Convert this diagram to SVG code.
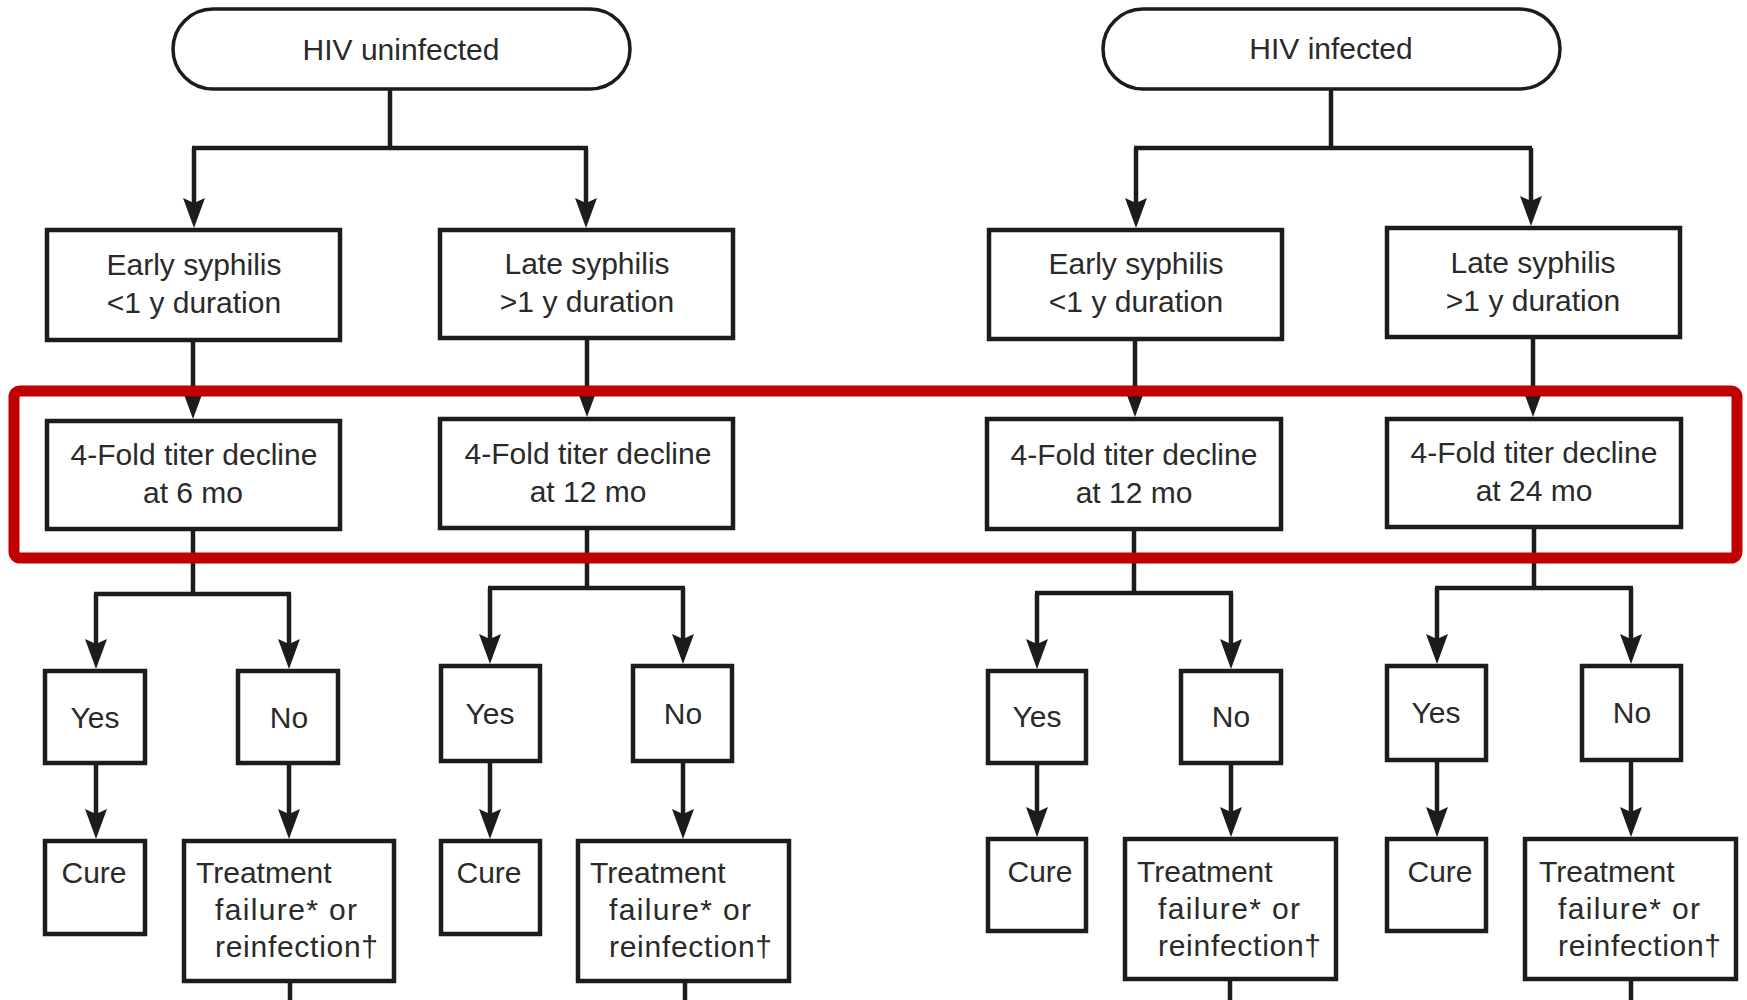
<svg xmlns="http://www.w3.org/2000/svg" width="1747" height="1000" viewBox="0 0 1747 1000">
<style>
.bg{fill:#ffffff}
.box{fill:#ffffff;stroke:#1c1c1c;stroke-width:4.5}
.pill{fill:#ffffff;stroke:#1c1c1c;stroke-width:3.5}
.t{font-family:"Liberation Sans",Arial,sans-serif;font-size:30px;fill:#2a2a2a;text-anchor:middle}
.tl{font-family:"Liberation Sans",Arial,sans-serif;font-size:30px;fill:#2a2a2a;text-anchor:start}
.c{fill:none;stroke:#1c1c1c;stroke-width:4.5}
.ca{fill:none;stroke:#1c1c1c;stroke-width:4.5;marker-end:url(#arr)}
.hl{fill:none;stroke:#c00000;stroke-width:11}
</style>
<defs>
<marker id="arr" viewBox="0 0 30 22" refX="22" refY="11" markerWidth="30" markerHeight="22" markerUnits="userSpaceOnUse" orient="auto">
<path d="M0,0 L30,11 L0,22 L5,11 Z" fill="#1c1c1c"/>
</marker>
</defs>
<rect class="bg" x="0" y="0" width="1747" height="1000"/>

<g id="connectors">
<path class="c" d="M390,89 V148"/>
<path class="c" d="M192,148 H588"/>
<path class="ca" d="M194,148 V220"/>
<path class="ca" d="M586,148 V220"/>
<path class="ca" d="M193,340 V411"/>
<path class="ca" d="M587,338 V409"/>
<path class="c" d="M193,529 V594"/>
<path class="c" d="M94,594 H291"/>
<path class="ca" d="M96,594 V661"/>
<path class="ca" d="M289,594 V661"/>
<path class="c" d="M587,528 V588"/>
<path class="c" d="M488,588 H685"/>
<path class="ca" d="M490,588 V656"/>
<path class="ca" d="M683,588 V656"/>
<path class="ca" d="M96,763 V831"/>
<path class="ca" d="M289,763 V831"/>
<path class="ca" d="M490,761 V831"/>
<path class="ca" d="M683,761 V831"/>
<path class="c" d="M290,981 V1000"/>
<path class="c" d="M685,981 V1000"/>
<path class="c" d="M1331,89 V148"/>
<path class="c" d="M1134,148 H1532"/>
<path class="ca" d="M1136,148 V220"/>
<path class="ca" d="M1531,148 V218"/>
<path class="ca" d="M1135,339 V409"/>
<path class="ca" d="M1533,337 V409"/>
<path class="c" d="M1134,529 V593"/>
<path class="c" d="M1035,593 H1233"/>
<path class="ca" d="M1037,593 V661"/>
<path class="ca" d="M1231,593 V661"/>
<path class="c" d="M1534,527 V588"/>
<path class="c" d="M1435,588 H1633"/>
<path class="ca" d="M1437,588 V656"/>
<path class="ca" d="M1631,588 V656"/>
<path class="ca" d="M1037,763 V829"/>
<path class="ca" d="M1231,763 V829"/>
<path class="ca" d="M1437,760 V829"/>
<path class="ca" d="M1631,760 V829"/>
<path class="c" d="M1230,979 V1000"/>
<path class="c" d="M1631,979 V1000"/>
</g>

<g id="hiv-uninfected">
<rect class="pill" x="173" y="9" width="457" height="80" rx="40" ry="40"/>
<text class="t" x="401" y="60">HIV uninfected</text>
</g>
<g id="early-1">
<rect class="box" x="47" y="230" width="293" height="110"/>
<text class="t" x="194" y="275">Early syphilis</text>
<text class="t" x="194" y="313">&lt;1 y duration</text>
</g>
<g id="late-1">
<rect class="box" x="440" y="230" width="293" height="108"/>
<text class="t" x="587" y="274">Late syphilis</text>
<text class="t" x="587" y="312">&gt;1 y duration</text>
</g>
<g id="fold-1">
<rect class="box" x="47" y="421" width="293" height="108"/>
<text class="t" x="194" y="465">4-Fold titer decline</text>
<text class="t" x="193" y="503">at 6 mo</text>
</g>
<g id="fold-2">
<rect class="box" x="440" y="419" width="293" height="109"/>
<text class="t" x="588" y="464">4-Fold titer decline</text>
<text class="t" x="588" y="502">at 12 mo</text>
</g>
<g id="yes-1">
<rect class="box" x="45" y="671" width="100" height="92"/>
<text class="t" x="95" y="728">Yes</text>
</g>
<g id="no-1">
<rect class="box" x="238" y="671" width="100" height="92"/>
<text class="t" x="289" y="728">No</text>
</g>
<g id="cure-1">
<rect class="box" x="45" y="841" width="100" height="93"/>
<text class="t" x="94" y="883">Cure</text>
</g>
<g id="fail-1">
<rect class="box" x="184" y="841" width="210" height="140"/>
<text class="tl" x="196" y="883">Treatment</text>
<text class="tl" x="215" y="920" textLength="142" lengthAdjust="spacing">failure* or</text>
<text class="tl" x="215" y="957" textLength="163" lengthAdjust="spacing">reinfection†</text>
</g>
<g id="yes-2">
<rect class="box" x="441" y="666" width="99" height="95"/>
<text class="t" x="490" y="724">Yes</text>
</g>
<g id="no-2">
<rect class="box" x="633" y="666" width="99" height="95"/>
<text class="t" x="683" y="724">No</text>
</g>
<g id="cure-2">
<rect class="box" x="441" y="841" width="99" height="93"/>
<text class="t" x="489" y="883">Cure</text>
</g>
<g id="fail-2">
<rect class="box" x="578" y="841" width="211" height="140"/>
<text class="tl" x="590" y="883">Treatment</text>
<text class="tl" x="609" y="920" textLength="142" lengthAdjust="spacing">failure* or</text>
<text class="tl" x="609" y="957" textLength="163" lengthAdjust="spacing">reinfection†</text>
</g>

<g id="hiv-infected">
<rect class="pill" x="1103" y="9" width="457" height="80" rx="40" ry="40"/>
<text class="t" x="1331" y="59">HIV infected</text>
</g>
<g id="early-2">
<rect class="box" x="989" y="230" width="293" height="109"/>
<text class="t" x="1136" y="274">Early syphilis</text>
<text class="t" x="1136" y="312">&lt;1 y duration</text>
</g>
<g id="late-2">
<rect class="box" x="1387" y="228" width="293" height="109"/>
<text class="t" x="1533" y="273">Late syphilis</text>
<text class="t" x="1533" y="311">&gt;1 y duration</text>
</g>
<g id="fold-3">
<rect class="box" x="987" y="419" width="294" height="110"/>
<text class="t" x="1134" y="465">4-Fold titer decline</text>
<text class="t" x="1134" y="503">at 12 mo</text>
</g>
<g id="fold-4">
<rect class="box" x="1387" y="419" width="294" height="108"/>
<text class="t" x="1534" y="463">4-Fold titer decline</text>
<text class="t" x="1534" y="501">at 24 mo</text>
</g>
<g id="yes-3">
<rect class="box" x="988" y="671" width="98" height="92"/>
<text class="t" x="1037" y="727">Yes</text>
</g>
<g id="no-3">
<rect class="box" x="1181" y="671" width="100" height="92"/>
<text class="t" x="1231" y="727">No</text>
</g>
<g id="cure-3">
<rect class="box" x="988" y="839" width="98" height="92"/>
<text class="t" x="1040" y="882">Cure</text>
</g>
<g id="fail-3">
<rect class="box" x="1125" y="839" width="211" height="140"/>
<text class="tl" x="1137" y="882">Treatment</text>
<text class="tl" x="1158" y="919" textLength="142" lengthAdjust="spacing">failure* or</text>
<text class="tl" x="1158" y="956" textLength="163" lengthAdjust="spacing">reinfection†</text>
</g>
<g id="yes-4">
<rect class="box" x="1387" y="666" width="99" height="94"/>
<text class="t" x="1436" y="723">Yes</text>
</g>
<g id="no-4">
<rect class="box" x="1582" y="666" width="99" height="94"/>
<text class="t" x="1632" y="723">No</text>
</g>
<g id="cure-4">
<rect class="box" x="1387" y="839" width="99" height="92"/>
<text class="t" x="1440" y="882">Cure</text>
</g>
<g id="fail-4">
<rect class="box" x="1525" y="839" width="211" height="140"/>
<text class="tl" x="1539" y="882">Treatment</text>
<text class="tl" x="1558" y="919" textLength="142" lengthAdjust="spacing">failure* or</text>
<text class="tl" x="1558" y="956" textLength="163" lengthAdjust="spacing">reinfection†</text>
</g>

<g id="highlight">
<rect class="hl" x="14" y="391" width="1723" height="167" rx="6" ry="6"/>
</g>
</svg>
